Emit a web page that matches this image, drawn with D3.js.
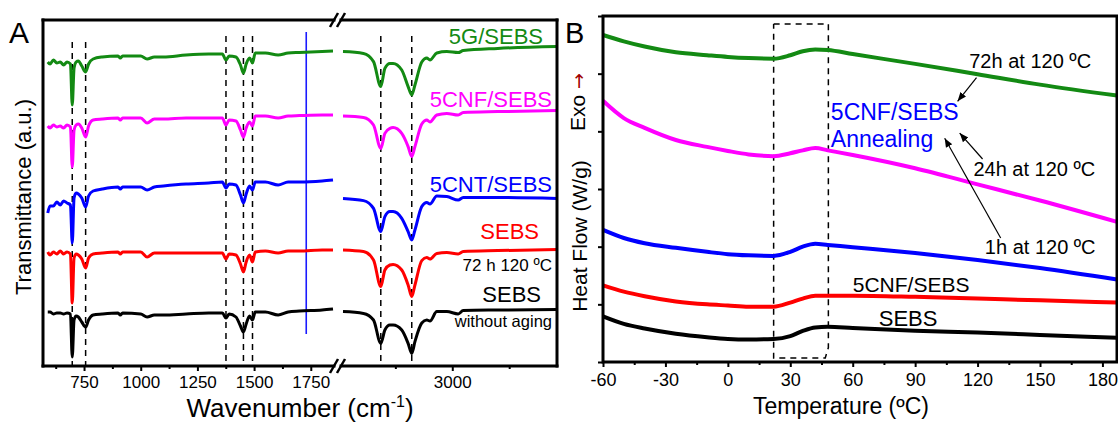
<!DOCTYPE html>
<html>
<head>
<meta charset="utf-8">
<script src="https://cdn.jsdelivr.net/npm/d3@7"></script>
<style>
  body { margin: 0; background: #fff; }
  svg { display: block; font-family: 'Liberation Sans', Arial, sans-serif; }
</style>
</head>
<body>
<div class="root"></div>
<script>
// ---- panel A : FTIR spectra (transmittance, a.u.) ----
const wnLow = [590, 600, 615, 630, 645, 660, 675, 690, 698, 706, 715, 725, 740, 757, 770, 790,
  830, 900, 910, 920, 1000, 1028, 1060, 1100, 1200, 1300, 1360, 1376, 1390, 1420, 1440, 1453,
  1465, 1480, 1493, 1505, 1550, 1606, 1650, 1700, 1800, 1848];
const wnHigh = [2760, 2805, 2827, 2843, 2852, 2863, 2870, 2889, 2903, 2911, 2918, 2933, 2944,
  2951, 2966, 2988, 3013, 3024, 3100, 3230];

const g5Low = [152, 151, 153, 151.5, 152, 150.5, 152, 151, 130.5, 149, 152, 152.5, 150, 147, 151, 153.5,
  154.5, 155, 154, 155, 155, 153.5, 154.5, 154.5, 155.5, 156, 156, 153, 155, 154.5, 150.5, 146.5,
  151, 154, 151.5, 156.5, 156.5, 155.5, 156.5, 156.8, 157.3, 157.5];
const g5High = [157.2, 156.3, 152.2, 139.7, 148.8, 151.3, 151.3, 148, 139.7, 135.5, 140.5, 152, 154,
  153, 156.5, 157.2, 156.7, 157.7, 158.8, 159.7];

const cnfLow = [120, 119, 120.5, 119.5, 120, 119, 120.5, 119.5, 99.5, 118, 120.5, 121, 119, 114.5, 120, 123,
  123.5, 124, 123, 124, 124, 121.5, 123.5, 123.5, 124, 124, 124, 120.5, 123, 122.5, 118, 114.5,
  119, 122, 120, 125, 125, 124, 125, 125.2, 125.5, 125.5];
const cnfHigh = [125, 124.3, 120.5, 108.8, 116.3, 118.8, 119.2, 116.3, 109.7, 104.7, 109.7, 121, 123,
  122, 125.5, 126.3, 125.5, 126.7, 127.2, 127.7];

const cntLow = [76.5, 80, 80, 82, 80.5, 82.5, 81.5, 80.5, 61.5, 84, 86.5, 86, 84, 79.5, 85, 87.5,
  88.5, 89.5, 88.5, 89.5, 89.5, 88, 89.5, 90, 91, 91.5, 92, 89, 91, 90.5, 85.5, 81.5,
  86, 90, 88, 92, 92, 90.5, 92, 92, 92.5, 93];
const cntHigh = [83.8, 82.7, 78.8, 67.2, 74.7, 77.2, 77.2, 73.8, 67.2, 63, 68, 79.7, 81.8,
  81, 85, 84.7, 83, 84.3, 84.3, 83.8];

const agedLow = [57, 55.5, 57, 56, 57.5, 56, 57, 56, 31.5, 54, 56, 55.5, 53.5, 49, 54, 56,
  56.5, 57, 56, 57, 57, 54.5, 56.5, 56.5, 56.5, 56.5, 56.5, 53.5, 56, 55.5, 51, 47,
  52, 55.5, 52, 57, 57.5, 56.5, 57.5, 57.5, 58, 58];
const agedHigh = [58, 57.2, 53, 39.7, 48, 50.5, 50.8, 48, 40.5, 34.7, 40.5, 52.7, 54.2,
  53.5, 56.3, 56.7, 56, 57.2, 57.7, 58.3];

const sebsLow = [27, 27, 26, 26.5, 26.5, 26, 26.5, 26, 4.5, 23, 25, 24.5, 22, 19.5, 23, 25.5,
  26, 26.5, 25.5, 26.5, 26, 24.5, 25.5, 25.5, 26, 26.5, 26.5, 24, 26, 24.5, 20, 17,
  21, 25, 23, 27, 27, 25.5, 27, 27.5, 28, 28.5];
const sebsHigh = [27.2, 26.3, 23, 11.3, 18, 20.5, 20.5, 18, 11.3, 6.3, 12.2, 21.5, 23,
  22.5, 27.2, 27.2, 26, 27.7, 28, 28.3];

const peakLines = [698, 757, 1376, 1453, 1493, 2843, 2911];
const carbonylLine = 1730;
const ticksLowMajor = [750, 1000, 1250, 1500, 1750];
const ticksLowMinor = [625, 875, 1125, 1375, 1625];
const ticksHighMajor = [3000];
const ticksHighMinor = [2875, 3125];

// ---- panel B : DSC curves (heat flow, W/g) ----
const temps = [-60, -50, -40, -25, -10, 0, 10, 22, 30, 36, 42, 48, 60, 90, 120, 150, 187];
const hf72h = [5.67, 5.56, 5.47, 5.37, 5.32, 5.29, 5.27, 5.26, 5.32, 5.39, 5.42, 5.41, 5.34, 5.17, 4.99, 4.81, 4.62];
const hf24h = [4.53, 4.23, 4.06, 3.85, 3.73, 3.66, 3.60, 3.57, 3.62, 3.67, 3.71, 3.67, 3.59, 3.36, 3.08, 2.80, 2.43];
const hf1h = [2.29, 2.15, 2.06, 1.98, 1.91, 1.87, 1.85, 1.84, 1.91, 2.00, 2.05, 2.03, 1.99, 1.89, 1.77, 1.63, 1.43];
const hfCnf = [1.33, 1.22, 1.14, 1.05, 1.00, 0.98, 0.96, 0.96, 1.03, 1.10, 1.15, 1.15, 1.15, 1.13, 1.10, 1.07, 1.03];
const hfSebs = [0.79, 0.66, 0.58, 0.49, 0.43, 0.40, 0.39, 0.40, 0.45, 0.54, 0.60, 0.61, 0.59, 0.54, 0.51, 0.47, 0.42];
const tempTicks = [-60, -30, 0, 30, 60, 90, 120, 150, 180];
const tempMinor = [-45, -15, 15, 45, 75, 105, 135, 165];

const colors = ['#138a13', '#ff00ff', '#0000ff', '#ff0000', '#000000'];

const svg = d3.select('.root')
  .append('svg')
  .attr('width', 1118)
  .attr('height', 423);

svg.append('defs').append('marker')
  .attr('id', 'arr')
  .attr('viewBox', '0 0 10 10')
  .attr('refX', 10).attr('refY', 5)
  .attr('markerWidth', 9).attr('markerHeight', 9)
  .attr('markerUnits', 'userSpaceOnUse')
  .attr('orient', 'auto')
  .append('path')
  .attr('d', 'M0,1 L10,5 L0,9 z')
  .attr('fill', '#000');

const plain = d => String(d);

// ================= panel A =================
const a = { left: 43, right: 557, top: 20, bottom: 366, breakL: 333, breakR: 343 };
const xLow = d3.scaleLinear().domain([569, 1848]).range([a.left, a.breakL]);
const xHigh = d3.scaleLinear().domain([2760, 3230]).range([a.breakR, a.right]);
const yA = d3.scaleLinear().domain([0, 173]).range([a.bottom, a.top]);
const xWn = wn => wn < 2000 ? xLow(wn) : xHigh(wn);

const gA = svg.append('g');

// dashed guide lines
gA.selectAll('.peak')
  .data(peakLines)
  .enter()
  .append('line')
  .attr('x1', d => xWn(d)).attr('x2', d => xWn(d))
  .attr('y1', d => yA(d < 800 ? 162 : 165)).attr('y2', yA(0))
  .attr('stroke', '#000')
  .attr('stroke-width', 1.5)
  .attr('stroke-dasharray', '6,5');

gA.append('line')
  .attr('x1', xWn(carbonylLine)).attr('x2', xWn(carbonylLine))
  .attr('y1', yA(167)).attr('y2', yA(16))
  .attr('stroke', '#1a1aff')
  .attr('stroke-width', 1.6);

const spectra = [
  [g5Low, g5High], [cnfLow, cnfHigh], [cntLow, cntHigh], [agedLow, agedHigh], [sebsLow, sebsHigh]
];
const lineLow = d3.line().x(d => xLow(d[0])).y(d => yA(d[1])).curve(d3.curveMonotoneX);
const lineHigh = d3.line().x(d => xHigh(d[0])).y(d => yA(d[1])).curve(d3.curveMonotoneX);

spectra.forEach((s, i) => {
  gA.append('path')
    .attr('d', lineLow(wnLow.map((w, j) => [w, s[0][j]])))
    .attr('fill', 'none')
    .attr('stroke', colors[i])
    .attr('stroke-width', 3)
    .attr('stroke-linejoin', 'round');
  gA.append('path')
    .attr('d', lineHigh(wnHigh.map((w, j) => [w, s[1][j]])))
    .attr('fill', 'none')
    .attr('stroke', colors[i])
    .attr('stroke-width', 3)
    .attr('stroke-linejoin', 'round');
});

// frame with axis break
const frame = [
  [a.left, a.top, a.left, a.bottom],
  [a.right, a.top, a.right, a.bottom],
  [a.left, a.top, 334, a.top], [341, a.top, a.right, a.top],
  [a.left, a.bottom, 334, a.bottom], [341, a.bottom, a.right, a.bottom]
];
gA.selectAll('.frame')
  .data(frame)
  .enter()
  .append('line')
  .attr('x1', d => d[0]).attr('y1', d => d[1])
  .attr('x2', d => d[2]).attr('y2', d => d[3])
  .attr('stroke', '#000')
  .attr('stroke-width', 3)
  .attr('stroke-linecap', 'square');

[a.top, a.bottom].forEach(y => {
  [334, 341].forEach(cx => {
    gA.append('line')
      .attr('x1', cx - 4).attr('y1', y + 7)
      .attr('x2', cx + 4).attr('y2', y - 7)
      .attr('stroke', '#000')
      .attr('stroke-width', 2.5);
  });
});

const styleAxis = (g, size) => {
  g.select('.domain').remove();
  g.selectAll('.tick line').attr('stroke-width', 2);
  g.selectAll('.tick text').attr('font-size', size).attr('fill', '#000')
    .attr('font-family', "'Liberation Sans', Arial, sans-serif");
};

gA.append('g')
  .attr('transform', `translate(0, ${a.bottom})`)
  .call(d3.axisBottom(xLow).tickValues(ticksLowMajor).tickSize(5).tickPadding(5).tickFormat(plain))
  .call(g => styleAxis(g, 17));
gA.append('g')
  .attr('transform', `translate(0, ${a.bottom})`)
  .call(d3.axisBottom(xLow).tickValues(ticksLowMinor).tickSize(3).tickFormat(''))
  .call(g => styleAxis(g, 17));
gA.append('g')
  .attr('transform', `translate(0, ${a.bottom})`)
  .call(d3.axisBottom(xHigh).tickValues(ticksHighMajor).tickSize(5).tickPadding(5).tickFormat(plain))
  .call(g => styleAxis(g, 17));
gA.append('g')
  .attr('transform', `translate(0, ${a.bottom})`)
  .call(d3.axisBottom(xHigh).tickValues(ticksHighMinor).tickSize(3).tickFormat(''))
  .call(g => styleAxis(g, 17));

// labels panel A
const labelsA = [
  { t: '5G/SEBS', x: 543, y: 44, c: colors[0], s: 22 },
  { t: '5CNF/SEBS', x: 552, y: 107, c: colors[1], s: 22 },
  { t: '5CNT/SEBS', x: 552, y: 192, c: colors[2], s: 22 },
  { t: 'SEBS', x: 539, y: 239, c: colors[3], s: 22 },
  { t: '72 h 120 ºC', x: 552, y: 271, c: '#000', s: 17 },
  { t: 'SEBS', x: 541, y: 302, c: '#000', s: 22 },
  { t: 'without aging', x: 552, y: 327, c: '#000', s: 16.5 }
];
gA.selectAll('.lab')
  .data(labelsA)
  .enter()
  .append('text')
  .attr('x', d => d.x).attr('y', d => d.y)
  .attr('text-anchor', 'end')
  .attr('font-size', d => d.s)
  .attr('fill', d => d.c)
  .text(d => d.t);

gA.append('text').attr('x', 9).attr('y', 43).attr('font-size', 30).text('A');

gA.append('text')
  .attr('transform', 'translate(31, 197) rotate(-90)')
  .attr('text-anchor', 'middle')
  .attr('font-size', 22)
  .text('Transmittance (a.u.)');

const wl = gA.append('text')
  .attr('x', 300).attr('y', 417)
  .attr('text-anchor', 'middle')
  .attr('font-size', 26);
wl.append('tspan').text('Wavenumber (cm');
wl.append('tspan').attr('dy', -10).attr('font-size', 16).text('-1');
wl.append('tspan').attr('dy', 10).text(')');

// ================= panel B =================
const b = { left: 603, right: 1117, top: 16, bottom: 362 };
const xB = d3.scaleLinear().domain([-60, 187]).range([b.left, b.right]);
const yB = d3.scaleLinear().domain([0, 6]).range([b.bottom, b.top]);
const gB = svg.append('g');

// dashed window around the glass transition
gB.append('path')
  .attr('d', d3.line()([
    [xB(22), yB(5.86)], [xB(48.3), yB(5.86)], [xB(48.3), yB(0.25)],
    [xB(46.8), yB(0.07)], [xB(22), yB(0.07)], [xB(22), yB(5.86)]
  ]))
  .attr('fill', 'none')
  .attr('stroke', '#000')
  .attr('stroke-width', 1.5)
  .attr('stroke-dasharray', '6,5');

const dsc = [hf72h, hf24h, hf1h, hfCnf, hfSebs];
const lineB = d3.line().x(d => xB(d[0])).y(d => yB(d[1])).curve(d3.curveMonotoneX);
dsc.forEach((s, i) => {
  gB.append('path')
    .attr('d', lineB(temps.map((t, j) => [t, s[j]])))
    .attr('fill', 'none')
    .attr('stroke', colors[i])
    .attr('stroke-width', 4);
});

gB.append('rect')
  .attr('x', b.left).attr('y', b.top)
  .attr('width', b.right - b.left).attr('height', b.bottom - b.top)
  .attr('fill', 'none')
  .attr('stroke', '#000')
  .attr('stroke-width', 3);

gB.append('g')
  .attr('transform', `translate(0, ${b.bottom})`)
  .call(d3.axisBottom(xB).tickValues(tempTicks).tickSize(5).tickPadding(6).tickFormat(plain))
  .call(g => styleAxis(g, 18));
gB.append('g')
  .attr('transform', `translate(0, ${b.bottom})`)
  .call(d3.axisBottom(xB).tickValues(tempMinor).tickSize(3).tickFormat(''))
  .call(g => styleAxis(g, 18));
gB.append('g')
  .attr('transform', `translate(${b.left}, 0)`)
  .call(d3.axisLeft(yB).ticks(6).tickSize(5).tickFormat(''))
  .call(g => styleAxis(g, 18));

gB.append('text').attr('x', 565).attr('y', 43).attr('font-size', 29).text('B');

gB.append('text')
  .attr('x', 841).attr('y', 414)
  .attr('text-anchor', 'middle')
  .attr('font-size', 23)
  .text('Temperature (ºC)');

gB.append('text')
  .attr('transform', 'translate(587, 236) rotate(-90)')
  .attr('text-anchor', 'middle')
  .attr('font-size', 21)
  .text('Heat Flow (W/g)');

const exo = gB.append('text')
  .attr('transform', 'translate(585, 131) rotate(-90)')
  .attr('font-size', 21);
exo.append('tspan').text('Exo ');
exo.append('tspan').attr('fill', '#a00000').attr('font-family', 'DejaVu Sans').attr('font-size', 19).text('→');

const notesB = [
  { t: '72h at 120 ºC', x: 116, y: 5.1, c: '#000', s: 20 },
  { t: '5CNF/SEBS', x: 49.5, y: 4.2, c: '#0000ff', s: 23 },
  { t: 'Annealing', x: 49.5, y: 3.72, c: '#0000ff', s: 23 },
  { t: '24h at 120 ºC', x: 118, y: 3.23, c: '#000', s: 20 },
  { t: '1h at 120 ºC', x: 123.5, y: 1.88, c: '#000', s: 20 },
  { t: '5CNF/SEBS', x: 60, y: 1.22, c: '#000', s: 21 },
  { t: 'SEBS', x: 72.5, y: 0.63, c: '#000', s: 22 }
];
gB.selectAll('.note')
  .data(notesB)
  .enter()
  .append('text')
  .attr('x', d => xB(d.x)).attr('y', d => yB(d.y))
  .attr('font-size', d => d.s)
  .attr('fill', d => d.c)
  .text(d => d.t);

const arrowsB = [
  [[119.5, 4.93], [110.4, 4.52]],
  [[122.4, 3.52], [111.4, 3.97]],
  [[131.1, 2.15], [104.2, 3.88]]
];
gB.selectAll('.arrow')
  .data(arrowsB)
  .enter()
  .append('line')
  .attr('x1', d => xB(d[0][0])).attr('y1', d => yB(d[0][1]))
  .attr('x2', d => xB(d[1][0])).attr('y2', d => yB(d[1][1]))
  .attr('stroke', '#000')
  .attr('stroke-width', 1.2)
  .attr('marker-end', 'url(#arr)');
</script>
</body>
</html>
